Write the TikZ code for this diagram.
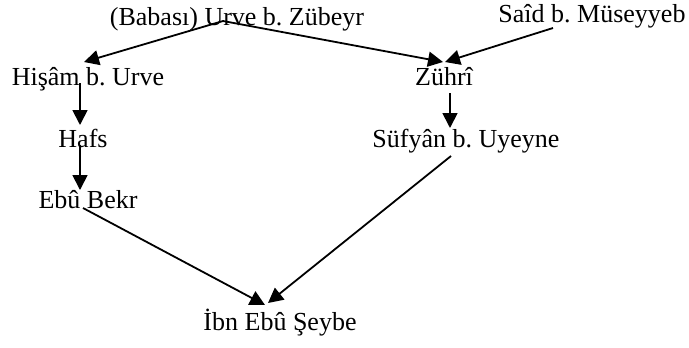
\documentclass[tikz,border=0pt]{standalone}
\usepackage{fontspec}
\setmainfont{Liberation Serif}
\usetikzlibrary{arrows.meta,calc}
\frenchspacing
\tikzset{
  narrator/.style={inner sep=0pt, anchor=base, font=\fontsize{26bp}{30bp}\selectfont},
  link/.style={line width=1.8bp, -{Triangle[length=15bp,width=15bp]}}
}
\begin{document}
\begin{tikzpicture}[x=1bp,y=-1bp]
\useasboundingbox (0,0) rectangle (689,347);
\node[narrator] (urve) at (237,25) {(Babası) Urve b. Zübeyr};
\node[narrator] (said) at (592,22) {Saîd b. Müseyyeb};
\node[narrator] (hisam) at (88,85) {Hişâm b. Urve};
\node[narrator] (zuhri) at (444,85) {Zührî};
\node[narrator] (hafs) at (83,147) {Hafs};
\node[narrator] (sufyan) at (466,147) {Süfyân b. Uyeyne};
\node[narrator] (ebu) at (88,208) {Ebû Bekr};
\node[narrator] (ibn) at (280,330) {İbn Ebû Şeybe};
\draw[link] ($(urve.base)+(-14,-4)$) -- ($(hisam.base)+(-4,-23)$);
\draw[link] ($(urve.base)+(-14,-4)$) -- ($(zuhri.base)+(-1,-23)$);
\draw[link] ($(said.base)+(-39,6)$) -- ($(zuhri.base)+(1,-23)$);
\draw[link] ($(hisam.base)+(-8,-2)$) -- ($(hafs.base)+(-3,-22)$);
\draw[link] ($(zuhri.base)+(6,8)$) -- ($(sufyan.base)+(-16,-19)$);
\draw[link] ($(hafs.base)+(-3,-2)$) -- ($(ebu.base)+(-8,-18)$);
\draw[link] ($(ebu.base)+(-5,0)$) -- ($(ibn.base)+(-15,-25)$);
\draw[link] ($(sufyan.base)+(-15,9)$) -- ($(ibn.base)+(-12,-27)$);
\end{tikzpicture}
\end{document}
